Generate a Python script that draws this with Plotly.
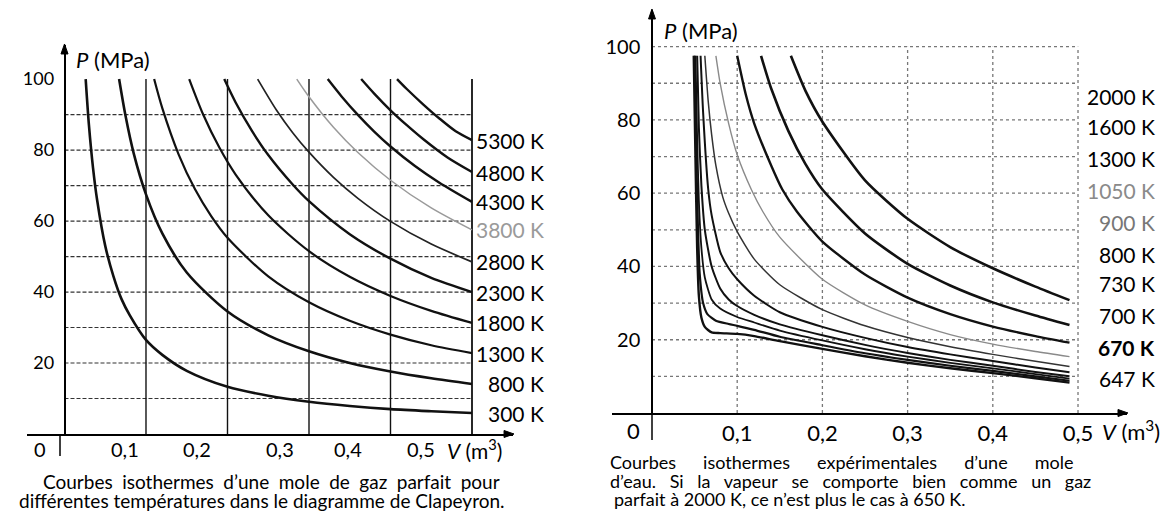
import plotly.graph_objects as go

W, H = 1173, 520
FONT = "Lato"

# ---------------- LEFT PANEL DATA (ideal gas isotherms) ----------------
LEFT_LABELS = ["300 K", "800 K", "1300 K", "1800 K", "2300 K",
               "2800 K", "3800 K", "4300 K", "4800 K", "5300 K"]

V_300 = [0.026, 0.03, 0.035, 0.04, 0.05, 0.06, 0.07, 0.08, 0.1, 0.12, 0.15, 0.2, 0.25, 0.3, 0.35, 0.4, 0.45, 0.5]
P_300 = [100, 87, 75, 66, 53, 44.5, 38, 33.5, 26.5, 22.3, 17.8, 13.3, 10.8, 9.1, 7.9, 7.0, 6.4, 5.9]

V_800 = [0.067, 0.075, 0.085, 0.1, 0.12, 0.15, 0.2, 0.25, 0.3, 0.35, 0.4, 0.45, 0.5]
P_800 = [100, 89.5, 79, 67.5, 56.5, 45.5, 34.5, 27.8, 23.3, 20.0, 17.6, 15.7, 14.1]

V_1300 = [0.11, 0.12, 0.14, 0.16, 0.18, 0.2, 0.25, 0.3, 0.35, 0.4, 0.45, 0.5]
P_1300 = [100, 91.8, 78.8, 69, 61.4, 55.3, 44.4, 37.1, 31.9, 28, 25, 22.8]

V_1800 = [0.153, 0.17, 0.19, 0.21, 0.25, 0.3, 0.35, 0.4, 0.45, 0.5]
P_1800 = [100, 90.1, 80.7, 73.1, 61.6, 51.5, 44.3, 38.9, 34.7, 31.3]

V_2300 = [0.196, 0.21, 0.23, 0.25, 0.28, 0.3, 0.35, 0.4, 0.45, 0.5]
P_2300 = [100, 93.4, 85.4, 78.6, 70.3, 65.6, 56.3, 49.4, 44, 40.0]

V_2800 = [0.237, 0.26, 0.28, 0.3, 0.33, 0.36, 0.4, 0.45, 0.5]
P_2800 = [100, 91.3, 84.9, 79.4, 72.3, 66.4, 59.9, 53.5, 48.5]

V_3800 = [0.285, 0.3, 0.33, 0.36, 0.4, 0.45, 0.5]
P_3800 = [100, 95, 86.4, 79.3, 71.5, 63.7, 57.5]

V_4300 = [0.323, 0.34, 0.36, 0.38, 0.4, 0.43, 0.46, 0.5]
P_4300 = [100, 95.1, 89.9, 85.2, 81, 75.5, 70.8, 65.4]

V_4800 = [0.364, 0.38, 0.4, 0.42, 0.44, 0.47, 0.5]
P_4800 = [100, 95.9, 91.2, 87, 83.1, 77.9, 73.8]

V_5300 = [0.408, 0.42, 0.44, 0.46, 0.48, 0.5]
P_5300 = [100, 97.2, 92.9, 88.9, 85.3, 82.8]

# ---------------- RIGHT PANEL DATA (experimental water isotherms) ----------------
RIGHT_LABELS = ["2000 K", "1600 K", "1300 K", "1050 K", "900 K",
                "800 K", "730 K", "700 K", "670 K", "647 K"]

W_2000_V = [0.163, 0.18, 0.2, 0.25, 0.3, 0.35, 0.4, 0.45, 0.49]
W_2000_P = [97.5, 88, 79.5, 63.5, 53, 45.3, 39.5, 34.5, 30.8]

W_1600_V = [0.128, 0.14, 0.16, 0.18, 0.2, 0.25, 0.3, 0.35, 0.4, 0.45, 0.49]
W_1600_P = [97.5, 88.5, 77, 68, 61, 49, 40.7, 34.8, 30.2, 26.6, 24]

W_1300_V = [0.1, 0.11, 0.12, 0.14, 0.153, 0.17, 0.2, 0.25, 0.3, 0.35, 0.4, 0.45, 0.49]
W_1300_P = [97.5, 87, 79, 67.5, 61, 55, 46.8, 37.8, 31.5, 27, 23.6, 21, 19.2]

W_1050_V = [0.075, 0.08, 0.09, 0.1, 0.117, 0.13, 0.15, 0.2, 0.25, 0.3, 0.35, 0.4, 0.45, 0.49]
W_1050_P = [97.5, 90, 79, 70.5, 60.8, 55, 48, 36.5, 29.5, 25, 21.4, 18.8, 16.8, 15.4]

W_900_V = [0.062, 0.066, 0.07, 0.075, 0.083, 0.09, 0.1, 0.12, 0.15, 0.2, 0.25, 0.3, 0.35, 0.4, 0.45, 0.49]
W_900_P = [97.5, 85, 76, 67.5, 59, 54.5, 49.5, 42, 35, 28.2, 23.8, 20.6, 18.1, 16, 14.1, 12.7]

W_800_V = [0.057, 0.06, 0.066, 0.07, 0.08, 0.09, 0.1, 0.12, 0.15, 0.2, 0.25, 0.3, 0.35, 0.4, 0.45, 0.49]
W_800_P = [97.5, 82, 61, 54, 44, 39.5, 36.5, 32, 27.5, 23.5, 20.5, 18, 16, 14.2, 12.4, 11.1]

W_730_V = [0.053, 0.055, 0.058, 0.062, 0.07, 0.08, 0.09, 0.1, 0.12, 0.15, 0.2, 0.25, 0.3, 0.35, 0.4, 0.45, 0.49]
W_730_P = [97.5, 78, 62, 50, 40, 34, 31, 29.2, 26.8, 24.2, 21.2, 18.6, 16.4, 14.5, 12.9, 11.2, 10]

W_700_V = [0.051, 0.053, 0.055, 0.058, 0.062, 0.07, 0.08, 0.1, 0.12, 0.15, 0.2, 0.25, 0.3, 0.35, 0.4, 0.45, 0.49]
W_700_P = [97.5, 75, 58, 45, 37, 31, 28.5, 26.2, 24.7, 22.5, 19.8, 17.4, 15.4, 13.7, 12.2, 10.6, 9.4]

W_670_V = [0.05, 0.052, 0.054, 0.056, 0.06, 0.065, 0.075, 0.09, 0.1, 0.12, 0.15, 0.2, 0.25, 0.3, 0.35, 0.4, 0.45, 0.49]
W_670_P = [97.5, 70, 50, 38, 30, 27, 25.2, 24.3, 23.8, 22.7, 20.8, 18.5, 16.3, 14.5, 12.9, 11.5, 10, 8.8]

W_647_V = [0.049, 0.051, 0.053, 0.055, 0.058, 0.062, 0.07, 0.08, 0.1, 0.12, 0.15, 0.2, 0.25, 0.3, 0.35, 0.4, 0.45, 0.49]
W_647_P = [97.5, 70, 45, 32, 26, 23.5, 22, 21.8, 21.6, 21, 19.6, 17.5, 15.5, 13.7, 12.2, 10.9, 9.5, 8.3]

# ticks
Y_TICKS = [20, 40, 60, 80, 100]
GRID_P_LEFT = [10, 20, 30, 40, 50, 60, 70, 80, 90]
GRID_P_RIGHT = [10, 20, 30, 40, 50, 60, 70, 80, 90, 100]
GRID_V = [0.1, 0.2, 0.3, 0.4, 0.5]
X_TICK_TEXT = ["0,1", "0,2", "0,3", "0,4", "0,5"]

# captions
CAP_LEFT = [["Courbes", "isothermes", "d’une", "mole", "de", "gaz", "parfait", "pour"],
            "différentes températures dans le diagramme de Clapeyron."]
CAP_RIGHT = [["Courbes", "isothermes", "expérimentales", "d’une", "mole"],
             ["d’eau.", "Si", "la", "vapeur", "se", "comporte", "bien", "comme", "un", "gaz"],
             "parfait à 2000 K, ce n’est plus le cas à 650 K."]


def px(x):
    return x / W


def py(y):
    return 1 - y / H


fig = go.Figure()

# ---- left curves ----
left_series = [(V_300, P_300), (V_800, P_800), (V_1300, P_1300), (V_1800, P_1800), (V_2300, P_2300),
               (V_2800, P_2800), (V_3800, P_3800), (V_4300, P_4300), (V_4800, P_4800), (V_5300, P_5300)]
left_styles = [("#111", 2.6), ("#111", 2.6), ("#111", 2.2), ("#111", 2.2), ("#111", 2.4),
               ("#222", 1.7), ("#9a9a9a", 1.5), ("#111", 2.4), ("#111", 2.4), ("#111", 2.4)]
for (v, p), (c, w), name in zip(left_series, left_styles, LEFT_LABELS):
    fig.add_trace(go.Scatter(x=v, y=p, mode="lines", name=name, xaxis="x", yaxis="y",
                             line=dict(color=c, width=w, shape="spline", smoothing=0.8),
                             showlegend=False, hoverinfo="skip"))

# ---- right curves ----
right_series = [(W_2000_V, W_2000_P), (W_1600_V, W_1600_P), (W_1300_V, W_1300_P), (W_1050_V, W_1050_P),
                (W_900_V, W_900_P), (W_800_V, W_800_P), (W_730_V, W_730_P), (W_700_V, W_700_P),
                (W_670_V, W_670_P), (W_647_V, W_647_P)]
right_styles = [("#111", 2.6), ("#111", 2.6), ("#111", 2.4), ("#8a8a8a", 1.4), ("#333", 1.5),
                ("#111", 2.0), ("#111", 2.0), ("#111", 1.8), ("#111", 2.2), ("#111", 2.4)]
for (v, p), (c, w), name in zip(right_series, right_styles, RIGHT_LABELS):
    fig.add_trace(go.Scatter(x=v, y=p, mode="lines", name=name, xaxis="x2", yaxis="y2",
                             line=dict(color=c, width=w, shape="spline", smoothing=0.6),
                             showlegend=False, hoverinfo="skip"))

shapes = []
# left grid: dashed horizontals, solid verticals
for g in GRID_P_LEFT:
    shapes.append(dict(type="line", xref="x", yref="y", x0=0, x1=0.5, y0=g, y1=g,
                       line=dict(color="#333", width=1.2, dash="4px,2px"), layer="below"))
for g in GRID_V:
    shapes.append(dict(type="line", xref="x", yref="y", x0=g, x1=g, y0=0, y1=100,
                       line=dict(color="#111", width=1.4 if g < 0.5 else 1.8), layer="below"))
# right grid: dotted both ways
for g in GRID_P_RIGHT:
    shapes.append(dict(type="line", xref="x2", yref="y2", x0=0, x1=0.5, y0=g, y1=g,
                       line=dict(color="#777", width=1.3, dash="3px,3px"), layer="below"))
for g in GRID_V:
    shapes.append(dict(type="line", xref="x2", yref="y2", x0=g, x1=g, y0=0, y1=100,
                       line=dict(color="#777", width=1.3, dash="3px,3px"), layer="below"))
# axis stubs below origin
shapes.append(dict(type="line", xref="paper", yref="paper", x0=px(60), x1=px(60), y0=py(434), y1=py(456),
                   line=dict(color="black", width=1.5)))
shapes.append(dict(type="line", xref="paper", yref="paper", x0=px(652), x1=px(652), y0=py(413), y1=py(440),
                   line=dict(color="black", width=1.5)))


def tri(points):
    d = "M " + " L ".join("%.4f,%.4f" % (px(a), py(b)) for a, b in points) + " Z"
    return dict(type="path", xref="paper", yref="paper", path=d,
                fillcolor="black", line=dict(color="black", width=1))


# arrowheads
shapes.append(tri([(64.5, 44), (61, 54), (68, 54)]))
shapes.append(tri([(514, 434), (504, 430.5), (504, 437.5)]))
shapes.append(tri([(652, 9), (648.5, 19), (655.5, 19)]))
shapes.append(tri([(1128, 413), (1118, 409.5), (1118, 416.5)]))

ann = []


def text(t, x, y, size, color="black", xanchor="center", yanchor="middle", xref="paper", yref="paper"):
    ann.append(dict(text=t, x=x, y=y, xref=xref, yref=yref, showarrow=False, xanchor=xanchor,
                    yanchor=yanchor, font=dict(family=FONT, size=size, color=color)))


# left axis texts
text("<i>P</i> (MPa)", px(74), py(59), 22, xanchor="left")
text("0", px(40), py(449), 20)
left_tick_x = [125, 197, 280, 348, 421]
for t, xx in zip(X_TICK_TEXT, left_tick_x):
    text(t, px(xx), py(449), 20)
text("<i>V</i> (m<sup>3</sup>)", px(445), py(449), 21, xanchor="left")

# left curve labels at curve ends
left_label_colors = ["black"] * 6 + ["#9a9a9a"] + ["black"] * 3
for (v, p), lab, c in zip(left_series, LEFT_LABELS, left_label_colors):
    text(lab, px(546), p[-1], 21, color=c, xanchor="right", yref="y")

# right axis texts
text("<i>P</i> (MPa)", px(662), py(30), 22, xanchor="left")
text("0", px(633), py(430), 22)
text("<i>V</i> (m<sup>3</sup>)", px(1100), py(430), 22, xanchor="left")

# right labels (evenly stacked at right)
RIGHT_LABEL_Y = [96, 126, 158, 190, 222, 254, 283, 315, 347, 378]
right_label_colors = ["black", "black", "black", "#8a8a8a", "#777", "black", "black", "black", "black", "black"]
for lab, yy, c in zip(RIGHT_LABELS, RIGHT_LABEL_Y, right_label_colors):
    t = "<b>%s</b>" % lab if lab == "670 K" else lab
    text(t, px(1157), py(yy), 21, color=c, xanchor="right")

# captions (justified first lines emulated with wider spaces)
EN, EM, NB = "\u2002", "\u2003", "\u00a0"
text(EN.join(CAP_LEFT[0]), px(271), py(481), 19)
text(CAP_LEFT[1], px(262), py(500), 19)
text((EM + EN + NB).join(CAP_RIGHT[0]), px(608), py(462), 18, xanchor="left")
text((EN + NB).join(CAP_RIGHT[1]), px(608), py(481), 18, xanchor="left")
text(CAP_RIGHT[2], px(612), py(499), 18, xanchor="left")

fig.update_layout(
    width=W, height=H, margin=dict(l=0, r=0, t=0, b=0),
    paper_bgcolor="white", plot_bgcolor="white",
    font=dict(family=FONT, color="black"),
    xaxis=dict(domain=[px(27), px(513)], range=[-0.046, 0.5503], anchor="y",
               showgrid=False, zeroline=False, showline=True, linecolor="black", linewidth=1.5,
               showticklabels=False, ticks=""),
    yaxis=dict(domain=[py(434), py(45)], range=[0, 109.6], anchor="free", position=px(64.5),
               showgrid=False, zeroline=False, showline=True, linecolor="black", linewidth=1.5,
               tickvals=Y_TICKS, ticks="", tickfont=dict(size=18, family=FONT), ticklabelstandoff=6),
    xaxis2=dict(domain=[px(612), px(1127)], range=[-0.04695, 0.5575], anchor="y2",
                showgrid=False, zeroline=False, showline=True, linecolor="black", linewidth=1.5,
                tickvals=GRID_V, ticktext=X_TICK_TEXT, ticks="", tickfont=dict(size=22, family=FONT)),
    yaxis2=dict(domain=[py(413), py(10)], range=[0, 110], anchor="free", position=px(652),
                showgrid=False, zeroline=False, showline=True, linecolor="black", linewidth=1.5,
                tickvals=Y_TICKS, ticks="", tickfont=dict(size=20, family=FONT), ticklabelstandoff=7),
    shapes=shapes, annotations=ann,
)

fig.write_html("out.html", config={"displayModeBar": False},
               post_script="document.body.style.margin='0';"
                           "document.documentElement.style.overflow='hidden';")
